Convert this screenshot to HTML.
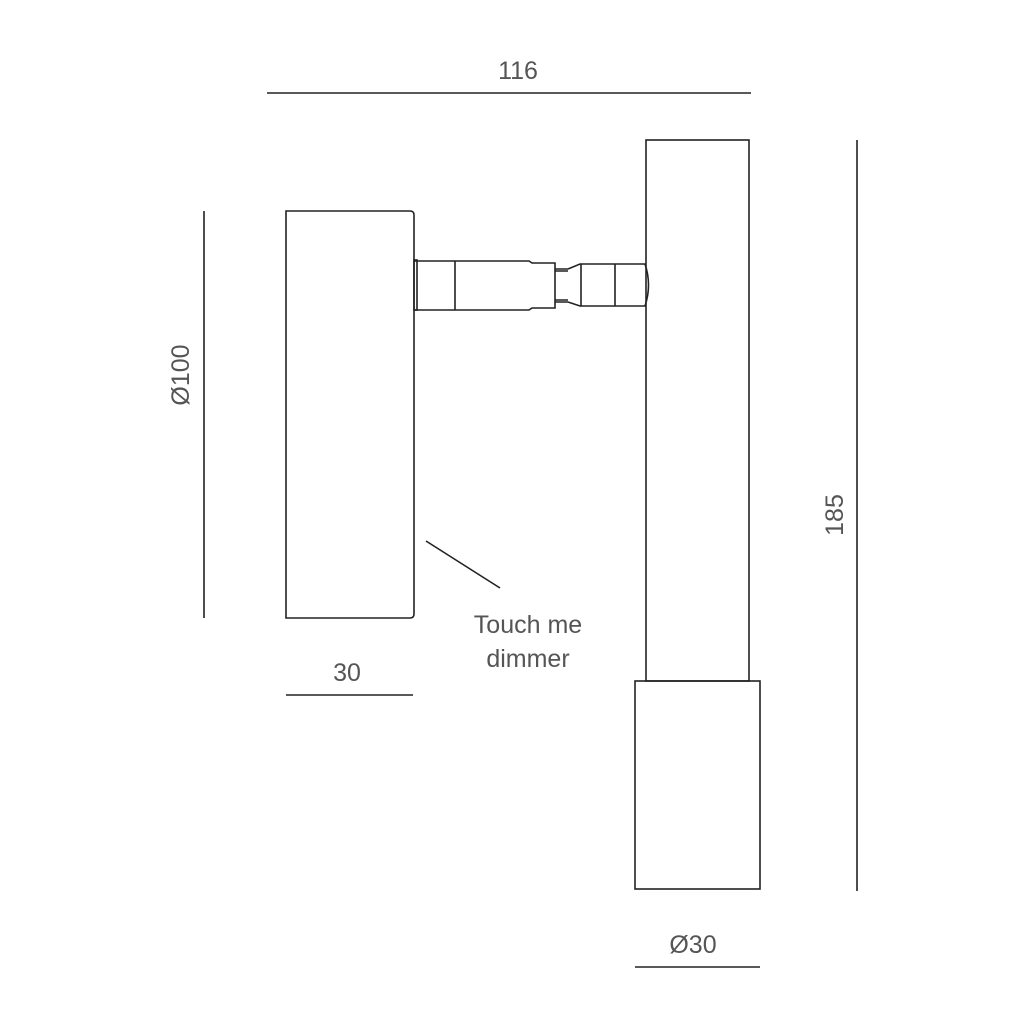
<!DOCTYPE html>
<html><head><meta charset="utf-8"><style>
html,body{margin:0;padding:0;background:#fff;}
svg{display:block;}
text{font-family:"Liberation Sans",sans-serif;fill:#555;}
</style></head><body>
<svg width="1024" height="1024" viewBox="0 0 1024 1024" xmlns="http://www.w3.org/2000/svg">
<g fill="none" stroke="#222" stroke-width="1.6">
<line x1="267" y1="93" x2="751" y2="93"/>
<line x1="204" y1="211" x2="204" y2="618"/>
<line x1="286" y1="695" x2="413" y2="695"/>
<line x1="857" y1="140" x2="857" y2="891"/>
<line x1="635" y1="967" x2="760" y2="967"/>
<path d="M286 211 H410 Q414 211 414 215 V614 Q414 618 410 618 H286 Z"/>
<rect x="646" y="140" width="103" height="541"/>
<rect x="635" y="681" width="125" height="208"/>
<rect x="414" y="260" width="3" height="50"/>
<path d="M414 261 H529 L532 263 H555 V308 H532 L529 310 H414"/>
<line x1="455" y1="261" x2="455" y2="310"/>
<path d="M555 269 H568 M555 271 H568 M555 300 H568 M555 302 H568"/>
<path d="M568 269 L580 264 H645 Q652 285 645 306 H580 L568 302"/>
<line x1="581" y1="264" x2="581" y2="306"/>
<line x1="615" y1="264" x2="615" y2="306"/>
<line x1="426" y1="541" x2="500" y2="588"/>
</g>
<g font-size="25">
<text x="518" y="79" text-anchor="middle">116</text>
<text x="347" y="681" text-anchor="middle">30</text>
<text x="693" y="953" text-anchor="middle">Ø30</text>
<text x="528" y="633" text-anchor="middle">Touch me</text>
<text x="528" y="667" text-anchor="middle">dimmer</text>
<text transform="translate(189,375) rotate(-90)" text-anchor="middle">Ø100</text>
<text transform="translate(843,515) rotate(-90)" text-anchor="middle">185</text>
</g>
</svg>
</body></html>
